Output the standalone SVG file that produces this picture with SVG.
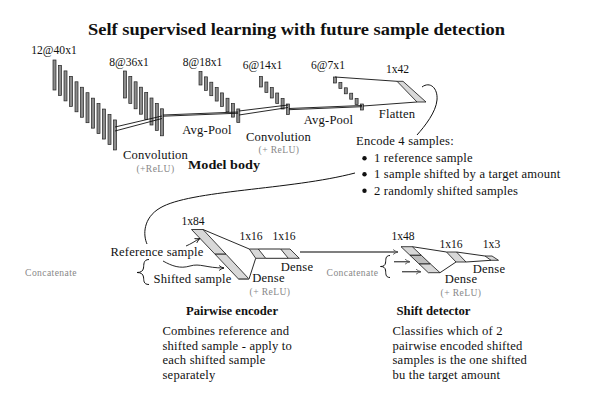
<svg xmlns="http://www.w3.org/2000/svg" width="595" height="410" viewBox="0 0 595 410">
<style>
text{font-family:"Liberation Serif","DejaVu Serif",serif;fill:#111}
.t{font-size:12.6px;letter-spacing:0.2px}
.n{font-size:11.6px}
.c{text-anchor:middle}
.b{font-weight:bold}
.s{font-size:9.6px;fill:#888;letter-spacing:0.4px}
.bar{fill:#8c8c8c;stroke:#222;stroke-width:0.7}
.pl{fill:#d8d8d8;stroke:#111;stroke-width:0.8}
.pm{fill:#bdbdbd;stroke:#111;stroke-width:0.8}
.ln{stroke:#111;stroke-width:0.9;fill:none}
.cv{stroke:#111;stroke-width:1;fill:none}
.ga{stroke:#555;stroke-width:1.4;fill:none;marker-end:url(#ag)}
.ka{stroke:#111;stroke-width:0.9;fill:none;marker-end:url(#ak)}
</style>
<defs>
<marker id="ak" viewBox="0 0 10 10" refX="9" refY="5" markerWidth="7" markerHeight="7" markerUnits="userSpaceOnUse" orient="auto"><path d="M2,1.5 Q5,4 9,5 Q5,6 2,8.5" fill="none" stroke="#111" stroke-width="1.3"/></marker>
<marker id="ag" viewBox="0 0 10 10" refX="9" refY="5" markerWidth="7" markerHeight="7" markerUnits="userSpaceOnUse" orient="auto"><path d="M2,1.5 Q5,4 9,5 Q5,6 2,8.5" fill="none" stroke="#555" stroke-width="1.3"/></marker>
</defs>
<rect width="595" height="410" fill="#fff"/>
<text x="296.5" y="34.5" class="c b" font-size="16.5" textLength="417" lengthAdjust="spacingAndGlyphs">Self supervised learning with future sample detection</text>

<g id="conv1">
<rect class="bar" x="53" y="60" width="3" height="30"/>
<rect class="bar" x="58.5" y="65.45" width="3" height="30"/>
<rect class="bar" x="64" y="70.9" width="3" height="30"/>
<rect class="bar" x="69.5" y="76.35" width="3" height="30"/>
<rect class="bar" x="75" y="81.8" width="3" height="30"/>
<rect class="bar" x="80.5" y="87.25" width="3" height="30"/>
<rect class="bar" x="86" y="92.7" width="3" height="30"/>
<rect class="bar" x="91.5" y="98.15" width="3" height="30"/>
<rect class="bar" x="97" y="103.6" width="3" height="30"/>
<rect class="bar" x="102.5" y="109.05" width="3" height="30"/>
<rect class="bar" x="108" y="114.5" width="3" height="30"/>
<rect class="bar" x="113.5" y="119.95" width="3" height="30"/>
<text x="54" y="54" class="n c">12@40x1</text>
</g>
<g id="conv2">
<rect class="bar" x="123.5" y="71" width="3" height="27"/>
<rect class="bar" x="128.8" y="76.4" width="3" height="27"/>
<rect class="bar" x="134.1" y="81.8" width="3" height="27"/>
<rect class="bar" x="139.4" y="87.2" width="3" height="27"/>
<rect class="bar" x="144.7" y="92.6" width="3" height="27"/>
<rect class="bar" x="150" y="98" width="3" height="27"/>
<rect class="bar" x="155.3" y="103.4" width="3" height="27"/>
<rect class="bar" x="160.6" y="108.8" width="3" height="27"/>
<text x="129" y="65.5" class="n c">8@36x1</text>
<text x="155.5" y="158.5" class="t c">Convolution</text>
<text x="155.5" y="171.5" class="s c">(+ReLU)</text>
</g>
<g id="pool1">
<rect class="bar" x="199" y="71.5" width="3" height="13.5"/>
<rect class="bar" x="204.4" y="76.85" width="3" height="13.5"/>
<rect class="bar" x="209.8" y="82.2" width="3" height="13.5"/>
<rect class="bar" x="215.2" y="87.55" width="3" height="13.5"/>
<rect class="bar" x="220.6" y="92.9" width="3" height="13.5"/>
<rect class="bar" x="226" y="98.25" width="3" height="13.5"/>
<rect class="bar" x="231.4" y="103.6" width="3" height="13.5"/>
<rect class="bar" x="236.8" y="108.95" width="3" height="13.5"/>
<text x="202.5" y="65.5" class="n c">8@18x1</text>
<text x="207" y="134" class="t c">Avg-Pool</text>
</g>
<g id="conv3">
<rect class="bar" x="259.5" y="76.5" width="3" height="10.5"/>
<rect class="bar" x="264.9" y="82" width="3" height="10.5"/>
<rect class="bar" x="270.3" y="87.5" width="3" height="10.5"/>
<rect class="bar" x="275.7" y="93" width="3" height="10.5"/>
<rect class="bar" x="281.1" y="98.5" width="3" height="10.5"/>
<rect class="bar" x="286.5" y="104" width="3" height="10.5"/>
<text x="262.5" y="68.5" class="n c">6@14x1</text>
<text x="278.5" y="140.5" class="t c">Convolution</text>
<text x="279" y="153" class="s c">(+ ReLU)</text>
</g>
<g id="pool2">
<rect class="bar" x="333.5" y="77" width="3" height="6"/>
<rect class="bar" x="338.9" y="82.4" width="3" height="6"/>
<rect class="bar" x="344.3" y="87.8" width="3" height="6"/>
<rect class="bar" x="349.7" y="93.2" width="3" height="6"/>
<rect class="bar" x="355.1" y="98.6" width="3" height="6"/>
<rect class="bar" x="360.5" y="104" width="3" height="6"/>
<text x="328" y="68.5" class="n c">6@7x1</text>
<text x="328.5" y="124" class="t c">Avg-Pool</text>
</g>
<g id="flatten">
<polygon class="pl" points="397,81.3 403,81.3 426,102 417,102"/>
<text x="397.5" y="73" class="n c">1x42</text>
<text x="397" y="118" class="t c">Flatten</text>
</g>
<text x="224" y="169" class="c b" font-size="13" textLength="72" lengthAdjust="spacingAndGlyphs">Model body</text>

<g id="encode-note">
<text x="356" y="145" class="t">Encode 4 samples:</text>
<circle cx="364.5" cy="158.3" r="2.2" fill="#111"/>
<text x="374" y="162" class="t">1 reference sample</text>
<circle cx="364.5" cy="174.3" r="2.2" fill="#111"/>
<text x="374" y="178" class="t">1 sample shifted by a target amount</text>
<circle cx="364.5" cy="190.7" r="2.2" fill="#111"/>
<text x="374" y="194.5" class="t">2 randomly shifted samples</text>
</g>

<g id="pairwise-encoder">
<polygon class="pl" points="191.5,229.5 203,229.5 226,254.2 215,254.2"/>
<polygon class="pl" points="215,254.2 226,254.2 249,279 238.5,279"/>
<line x1="238.5" y1="279" x2="249" y2="279" stroke="#777" stroke-width="2"/>
<polygon class="pl" points="249.3,249 258.3,249 265.7,258.3 255.7,258.3"/>
<polygon class="pl" points="280.7,249 290,249 299.3,258.3 288.3,258.3"/>
<text x="193" y="225" class="n c">1x84</text>
<text x="251" y="240" class="n c">1x16</text>
<text x="284" y="240" class="n c">1x16</text>
<text x="157" y="256" class="t c">Reference sample</text>
<text x="192.5" y="283" class="t c">Shifted sample</text>
<text x="268.5" y="282" class="t c">Dense</text>
<text x="270" y="294.5" class="s c">(+ ReLU)</text>
<text x="297" y="271" class="t c">Dense</text>
<text x="51" y="276" class="s c">Concatenate</text>
<path class="cv" d="M149,259.5 C143,259.5 144,265 143.5,268 C143,271 141,272.5 137,272.5 C141,272.5 143,274 143.5,277 C144,280 143,284.5 149,284.5"/>
<text x="232" y="315" class="c b" font-size="13" textLength="92" lengthAdjust="spacingAndGlyphs">Pairwise encoder</text>
<text x="162.5" y="335" class="t">Combines reference and</text>
<text x="162.5" y="349.5" class="t">shifted sample - apply to</text>
<text x="162.5" y="364" class="t">each shifted sample</text>
<text x="162.5" y="378.5" class="t">separately</text>
</g>

<g id="shift-detector">
<polygon class="pl" points="401,246.7 412.3,246.7 421.3,255.3 410,255.3"/>
<polygon class="pm" points="410,255.3 421.3,255.3 430.5,264 419.2,264"/>
<polygon class="pl" points="419.2,264 430.5,264 440,272.7 428.3,272.7"/>
<polygon class="pl" points="446.5,252 456.5,252 466,262 456,262"/>
<polygon class="pl" points="485,256 492,256 498.5,260.3 491,260.3"/>
<text x="403" y="240" class="n c">1x48</text>
<text x="451" y="248" class="n c">1x16</text>
<text x="491.5" y="248" class="n c">1x3</text>
<text x="461" y="283" class="t c">Dense</text>
<text x="461" y="295.5" class="s c">(+ ReLU)</text>
<text x="489" y="273" class="t c">Dense</text>
<text x="352.5" y="276" class="s c">Concatenate</text>
<path class="cv" d="M390,255.5 C385,255.5 386,260 385.5,263 C385,265.5 383.5,266.5 380.5,266.5 C383.5,266.5 385,267.5 385.5,270 C386,273 385,277.5 390,277.5"/>
<text x="433.5" y="315" class="c b" font-size="13" textLength="74" lengthAdjust="spacingAndGlyphs">Shift detector</text>
<text x="392.5" y="335" class="t">Classifies which of 2</text>
<text x="392.5" y="349.5" class="t">pairwise encoded shifted</text>
<text x="392.5" y="364" class="t">samples is the one shifted</text>
<text x="392.5" y="378.5" class="t">bu the target amount</text>
</g>

<g id="connectors">
<line class="ln" x1="115" y1="127" x2="162" y2="116"/>
<line class="ln" x1="115" y1="131" x2="162" y2="118.5"/>
<line class="ln" x1="163" y1="115" x2="238" y2="112"/>
<line class="ln" x1="163" y1="116.2" x2="238" y2="113.2"/>
<line class="ln" x1="239" y1="111" x2="288" y2="105"/>
<line class="ln" x1="239" y1="115" x2="288" y2="107.5"/>
<line class="ln" x1="289" y1="108.5" x2="362" y2="105.5"/>
<line class="ln" x1="289" y1="109.7" x2="362" y2="106.7"/>
<line class="ln" x1="335" y1="77" x2="397" y2="81.3"/>
<line class="ln" x1="363" y1="106" x2="417" y2="102"/>
<path class="cv" d="M422,87 C430,81 438,88 437,100 C436,112 425,126 417,135"/>
<path class="cv" d="M355,173 C290,190 190,190 160,208 C143,218 143,235 147,244"/>
<line class="ln" x1="203" y1="229.5" x2="249.3" y2="249"/>
<line class="ln" x1="249" y1="279" x2="255.7" y2="258.3"/>
<line class="ln" x1="258.3" y1="249" x2="280.7" y2="249"/>
<line class="ln" x1="265.7" y1="258.3" x2="288.3" y2="258.3"/>
<path class="ka" d="M186,246 C191,244 195,241 200,238.5"/>
<path class="ka" d="M163,261 C172,266 180,269 190,266 C200,263 206,268 224,268"/>
<line class="ga" x1="300" y1="252" x2="398" y2="252"/>
<line class="ga" x1="394" y1="261.7" x2="410" y2="261.7"/>
<line class="ga" x1="402" y1="271.7" x2="421" y2="271.7"/>
<line class="ln" x1="412.3" y1="246.7" x2="446.5" y2="252"/>
<line class="ln" x1="440" y1="272.7" x2="456" y2="262"/>
<line class="ln" x1="456.5" y1="252" x2="485" y2="256"/>
<line class="ln" x1="466" y1="262" x2="491" y2="260.3"/>
</g>
</svg>
